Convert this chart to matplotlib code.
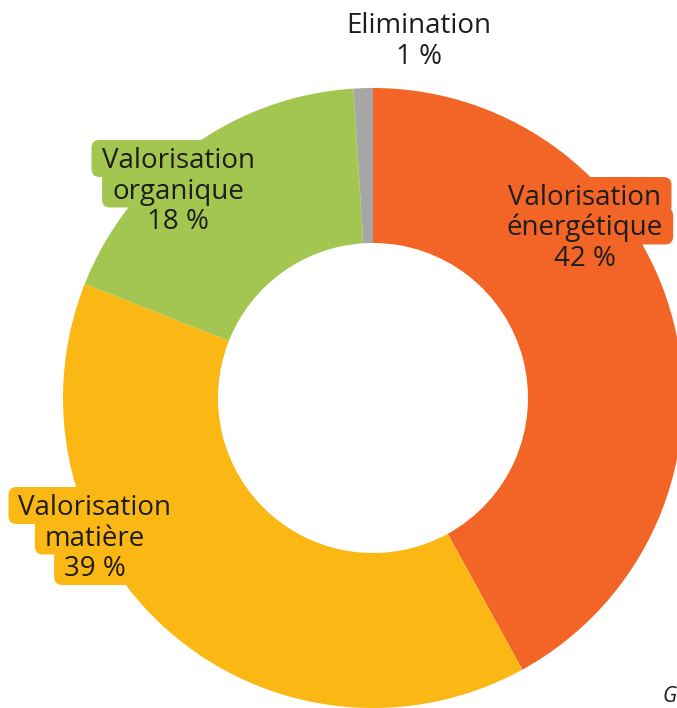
import matplotlib.pyplot as plt
from matplotlib.patches import FancyBboxPatch

categories = ["Valorisation énergétique", "Valorisation matière",
              "Valorisation organique", "Elimination"]
shares = [42, 39, 18, 1]
colors = ["#F26527", "#FBB814", "#A3C651", "#A6A6A6"]

W, H = 677, 708
# label anchors in pixels from the top-left: centre x, first baseline y
label_pos = [(585, 205), (95, 515), (178, 168), (419, 33)]
boxed = [True, True, True, False]
line_gap = 30.5

plt.rcParams['font.family'] = ['Open Sans', 'DejaVu Sans']

fig = plt.figure(figsize=(W / 100, H / 100), dpi=100)
ax = fig.add_axes([0, 0, 1, 1])

ax.pie(shares, colors=colors, startangle=90, counterclock=False,
       radius=310, center=(373, H - 398),
       wedgeprops=dict(width=155, linewidth=0))
ax.set_xlim(0, W)
ax.set_ylim(0, H)
ax.set_aspect('equal')
ax.axis('off')

texts = []
for name, val, col, (cx, by), bx in zip(categories, shares, colors, label_pos, boxed):
    lines = name.split(" ") + [f"{val} %"]
    for i, line in enumerate(lines):
        y = H - (by + i * line_gap)
        t = ax.text(cx, y, line, ha='center', va='baseline', fontsize=20,
                    color='#1d1d1b', zorder=4)
        if bx:
            texts.append((t, y, col))

# one rounded background per line, sized to the text
fig.canvas.draw()
renderer = fig.canvas.get_renderer()
inv = ax.transData.inverted()
for t, y, col in texts:
    bb = t.get_window_extent(renderer)
    x0, _ = inv.transform((bb.x0, bb.y0))
    x1, _ = inv.transform((bb.x1, bb.y1))
    ax.add_patch(FancyBboxPatch((x0 - 10, y - 9), (x1 - x0) + 20, 37,
                                boxstyle="round,pad=0,rounding_size=8",
                                fc=col, ec='none', zorder=3))

ax.text(662, H - 702, "G", fontsize=15, style='italic', color='#1d1d1b',
        ha='left', va='baseline')

plt.savefig('out.png', dpi=100)
